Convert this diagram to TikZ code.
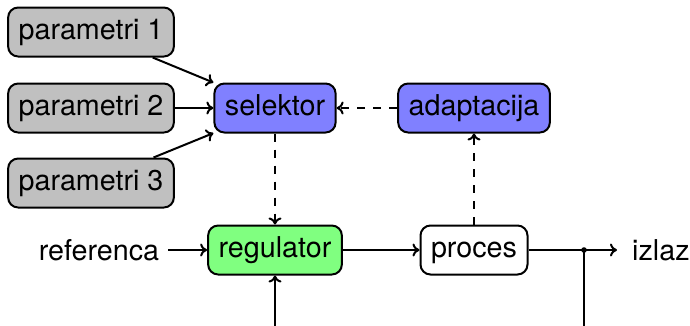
\documentclass[tikz,border=0pt]{standalone}
\usepackage{fontspec}
\setmainfont{TeX Gyre Heros}
\usetikzlibrary{arrows.meta}
\definecolor{boxgray}{RGB}{192,192,192}
\definecolor{boxblue}{RGB}{128,128,255}
\definecolor{boxgreen}{RGB}{128,255,128}
\tikzset{
  every node/.style={font=\fontsize{28.7}{34}\selectfont},
  blk/.style={draw, line width=2pt, rounded corners=10pt, inner xsep=10.5pt, inner ysep=0pt, minimum height=49pt, text height=20.5pt, text depth=6pt},
  conn/.style={line width=2pt, -{To[length=7pt,width=13pt]}},
  dconn/.style={conn, dash pattern=on 8pt off 8pt},
}
\begin{document}
\begin{tikzpicture}[x=1pt,y=-1pt]
\useasboundingbox (0,0) rectangle (690,325);
\node[blk, fill=boxgray] (p1) at (91,32) {parametri 1};
\node[blk, fill=boxgray] (p2) at (91,108) {parametri 2};
\node[blk, fill=boxgray] (p3) at (91,183) {parametri 3};
\node[blk, fill=boxblue] (sel) at (275,108) {selektor};
\node[blk, fill=boxblue] (ad) at (474,108) {adaptacija};
\node[blk, fill=boxgreen] (reg) at (275,250) {regulator};
\node[blk, fill=white] (pr) at (474,250) {proces};
\node[inner xsep=9pt] (ref) at (99,250) {referenca};
\node[anchor=west, inner xsep=15pt] (out) at (617,250) {izlaz};
\coordinate (j) at (584,250);
\coordinate (b1) at (584,327);
\coordinate (b2) at (275,327);
\draw[conn] (p1) -- (sel);
\draw[conn] (p2) -- (sel);
\draw[conn] (p3) -- (sel);
\draw[dconn] (ad) -- (sel);
\draw[dconn] (sel) -- (reg);
\draw[dconn] (pr) -- (ad);
\draw[conn] (ref) -- (reg);
\draw[conn] (reg) -- (pr);
\draw[line width=2pt] (pr) -- (j);
\draw[conn] (j) -- (out);
\draw[conn] (j) -- (b1) -- (b2) -- (reg);
\fill (j) circle (2.8pt);
\end{tikzpicture}
\end{document}
